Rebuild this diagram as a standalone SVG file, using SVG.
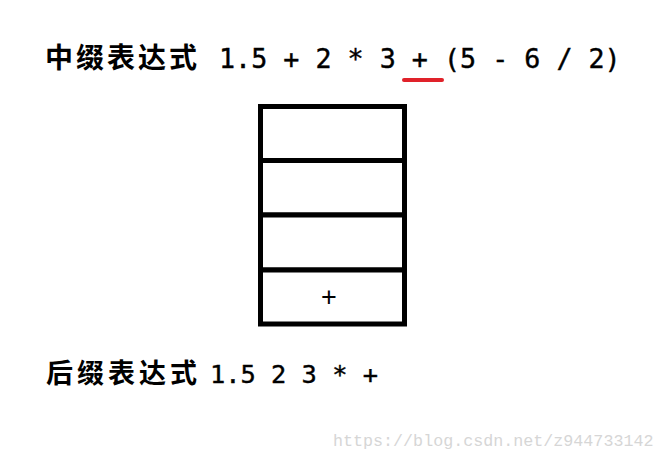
<svg xmlns="http://www.w3.org/2000/svg" width="666" height="460" viewBox="0 0 666 460">
<style>
.cjk{font-family:"Noto Sans CJK SC","Noto Sans",sans-serif;font-weight:bold;fill:#000}
.expr{font-family:"DejaVu Sans Mono","Liberation Mono",monospace;fill:#000;stroke:#000;stroke-width:0.4}
.cell{fill:#fff;stroke:#000;stroke-width:5}
.wm{font-family:"Liberation Mono",monospace;fill:#d6d6d6;font-size:16.7px}
</style>
<rect width="666" height="460" fill="#fff"/>
<g id="infix">
<text class="cjk" font-size="28" x="45 76 107 138 169" y="68">中缀表达式</text>
<text class="expr" font-size="26.7" x="219" y="68" xml:space="preserve">1.5 + 2 * 3 + (5 - 6 / 2)</text>
<line x1="404" y1="80" x2="442" y2="80" stroke="#e0222a" stroke-width="4" stroke-linecap="round"/>
</g>
<g id="stack">
<g id="cell1"><rect class="cell" x="260.5" y="106.5" width="144" height="54"/></g>
<g id="cell2"><rect class="cell" x="260.5" y="160.5" width="144" height="54.5"/></g>
<g id="cell3"><rect class="cell" x="260.5" y="215" width="144" height="55"/></g>
<g id="cell4"><rect class="cell" x="260.5" y="270" width="144" height="54"/>
<text x="329" y="306" text-anchor="middle" font-family="Liberation Sans,sans-serif" font-size="27" fill="#000">+</text></g>
</g>
<g id="postfix">
<text class="cjk" font-size="27" x="46 77 108 139 170" y="383">后缀表达式</text>
<text class="expr" font-size="25.4" x="209.9" y="383" xml:space="preserve">1.5 2 3 * +</text>
</g>
<g id="connectors"/>
<text class="wm" x="333" y="446">https://blog.csdn.net/z944733142</text>
</svg>
